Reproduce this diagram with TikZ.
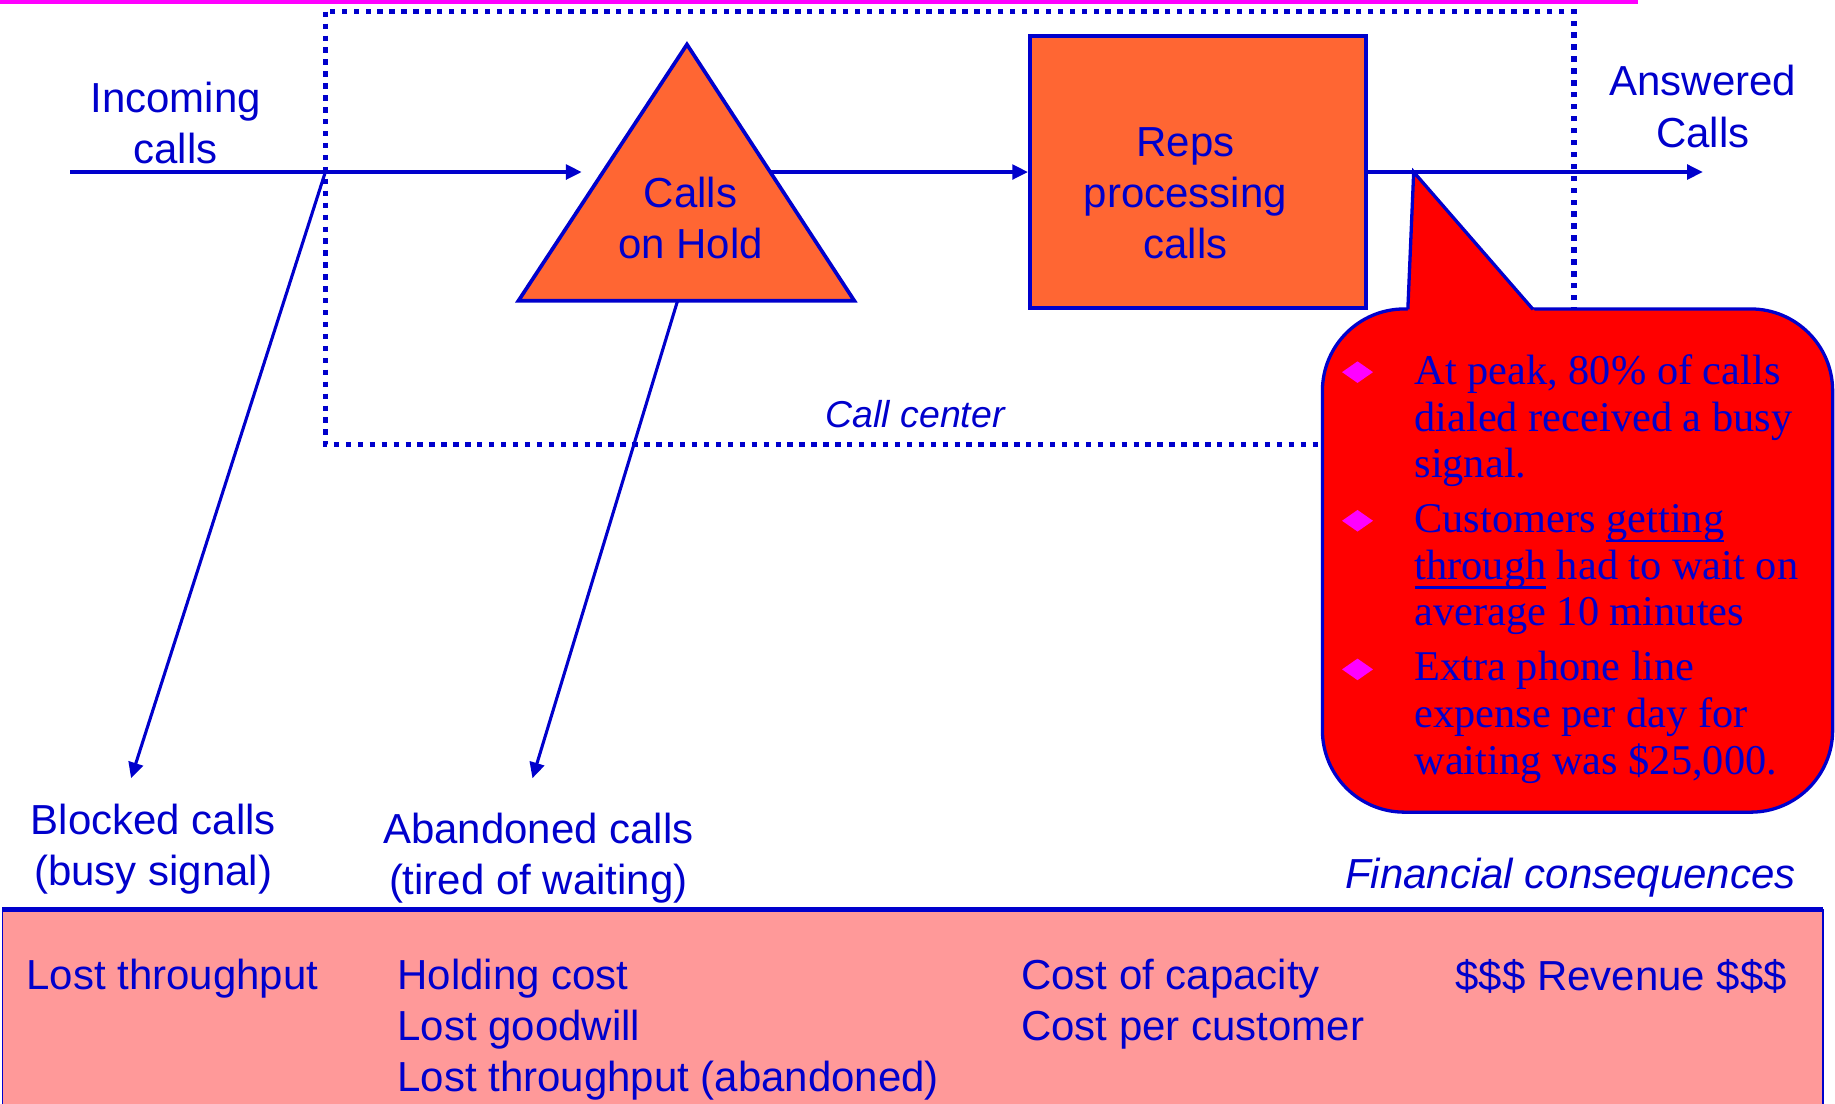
\documentclass[tikz,border=0pt]{standalone}
\usepackage{fontspec}
\setmainfont{Liberation Sans}
\newfontfamily\calloutfont{Liberation Serif}
\usetikzlibrary{arrows.meta,shapes.geometric}
\definecolor{callblue}{RGB}{0,0,204}
\definecolor{holdorange}{RGB}{255,102,51}
\definecolor{costpink}{RGB}{255,153,153}
\definecolor{pinkmark}{RGB}{255,0,255}
\tikzset {>={Triangle[length=3.8pt,width=3.6pt]}}
\newcommand*{\callsize}{\fontsize{10.2}{12.4}\selectfont}
\newcommand*{\notesize}{\fontsize{10.3}{11.4}\selectfont}
\newcommand*{\noteline}[1]{\setbox0\hbox{#1}\rlap{\rule[-2.4pt]{\wd0}{0.6pt}}\box0\relax}

\begin{document}
\begin{tikzpicture}[x=0.01cm,y=-0.01cm,
  every node/.style={text=callblue,font=\callsize,inner sep=0pt},
  flow/.style={draw=callblue,line width=0.75pt},
  stage/.style={fill=holdorange,draw=callblue,line width=0.9pt},
  centerline/.style={draw=callblue,line width=1.3pt,dash pattern=on 1.3pt off 1.6pt},
  bubble/.style={fill=red,draw=callblue,line width=0.8pt},
  bullet/.style={diamond,fill=pinkmark,minimum width=0.27cm,minimum height=0.19cm},
  note/.style={anchor=north west,align=left,font=\notesize\calloutfont}]
\useasboundingbox (0,0) rectangle (1568,943);

% Top rule
\draw[pinkmark,line width=0.03cm] (0,1.5) -- (1400,1.5);

% Call center boundary
\draw[centerline] (278,10) rectangle (1345,380);
\node[font=\fontsize{9.1}{11}\selectfont\itshape] (callcenter) at (782,354) {Call center};

% Queue and reps
\coordinate (apex) at (587,38);
\coordinate (qleft) at (443,257);
\coordinate (qright) at (730,257);
\draw[stage] (apex) -- (qleft) -- (qright) -- cycle;
\node[align=center] (hold) at (590,186) {Calls\\on Hold};
\node[stage,minimum width=2.87cm,minimum height=2.32cm] (reps) at (1023.5,147) {};
\node[align=center] (repslabel) at (1013,165) {Reps\\processing\\calls};

% Flow of calls
\coordinate (in) at (60,147);
\coordinate (split) at (278,147);
\coordinate (qin) at (497,147);
\coordinate (qout) at (658,147);
\coordinate (out) at (1455,147);
\coordinate (qdrop) at (579,257);
\coordinate (blocked) at (112,665);
\coordinate (abandoned) at (455,665);
\draw[flow,->] (in) -- (qin);
\draw[flow,->] (qout) -- (reps.west);
\draw[flow,->] (reps.east) -- (out);
\draw[flow,->] (split) -- (blocked);
\draw[flow,->] (qdrop) -- (abandoned);

% Labels on the flow
\node[align=center] (incoming) at (150,105) {Incoming\\calls};
\node[align=center] (answered) at (1455,91) {Answered\\Calls};
\node[align=center] (blockedlabel) at (131,726) {Blocked calls\\(busy signal)};
\node[align=center] (abandonedlabel) at (460,733) {Abandoned calls\\(tired of waiting)};
\node[anchor=east] (finance) at (1535,750) {\itshape Financial consequences};

% Callout
\draw[bubble,rounded corners=0.7cm] (1130,264) rectangle (1566,694);
\fill[red] (1202.9,266) -- (1208,147) -- (1311.7,266) -- cycle;
\draw[callblue,line width=0.8pt] (1203,264.4) -- (1208,147) -- (1310,264.4);
\foreach \y/\n in {318/1,445/2,572/3}
  \node[bullet] (bullet\n) at (1160,\y) {};
\node[note] (note1) at (1208,302)
  {At peak, 80\% of calls\\dialed received a busy\\signal.};
\node[note] (note2) at (1208,430)
  {Customers \noteline{getting}\\\noteline{through} had to wait on\\average 10 minutes};
\node[note] (note3) at (1208,556)
  {Extra phone line\\expense per day for\\waiting was \$25,000.};

% Consequences
\fill[costpink] (2,777) rectangle (1558,943);
\draw[callblue,line width=0.4pt] (2,943) -- (2,777) (1558,777) -- (1558,943);
\draw[callblue,line width=1.2pt] (2,777) -- (1558,777);
\node[anchor=north west,align=left] (lost) at (22,819) {Lost throughput};
\node[anchor=north west,align=left] (holding) at (339,819)
  {Holding cost\\Lost goodwill\\Lost throughput (abandoned)};
\node[anchor=north west,align=left] (capacity) at (872,819)
  {Cost of capacity\\Cost per customer};
\node[anchor=north west] (revenue) at (1243,819) {\$\$\$ Revenue \$\$\$};
\end{tikzpicture}
\end{document}
